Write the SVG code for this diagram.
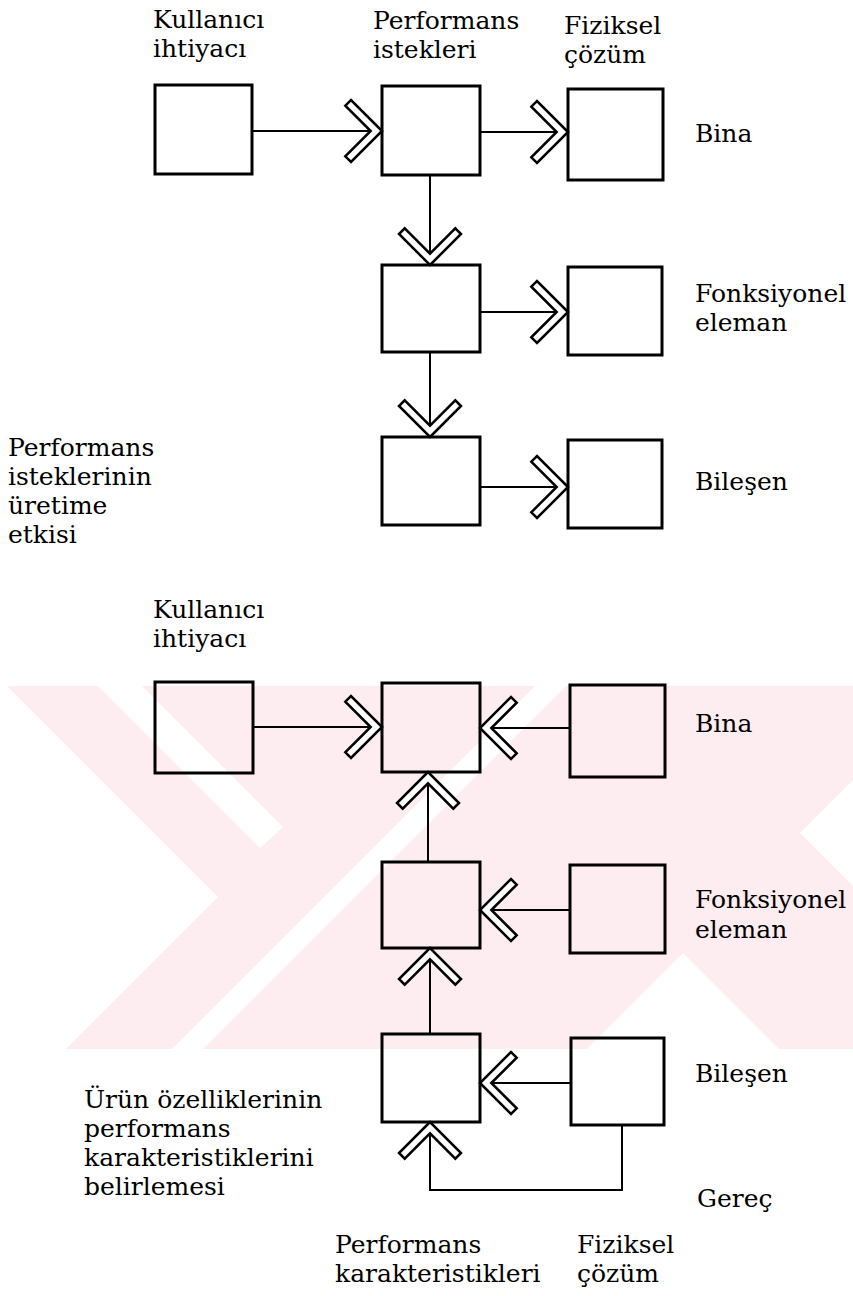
<svg xmlns="http://www.w3.org/2000/svg" xmlns:xlink="http://www.w3.org/1999/xlink" width="853" height="1296" viewBox="0 0 853 1296">
<style>
.box{fill:none;stroke:#000;stroke-width:3}
.ln{fill:none;stroke:#000;stroke-width:2}
.lbl{font-family:'DejaVu Serif','Liberation Serif',serif;font-size:25px;fill:#000}
.wm{fill:#fdedf0}
.wc{fill:#fff}
</style>
<defs>
<polygon id="chev" points="0,0 -31,-31 -36.7,-25.3 -11.3,0 -36.7,25.3 -31,31" fill="#fff" stroke="#000" stroke-width="2.5" stroke-linejoin="miter"/>
</defs>
<rect width="853" height="1296" fill="#fff"/>
<g id="watermark">
<rect class="wm" x="0" y="686" width="853" height="363"/>
<polygon class="wc" points="0,686 7,686 218,897 66,1049 0,1049"/>
<polygon class="wc" points="98,686 142,686 283,827 260,848"/>
<polygon class="wc" points="172,1049 203,1049 566,686 535,686"/>
<polygon class="wc" points="853,780 800,833 853,886"/>
<polygon class="wc" points="683,953 587,1049 779,1049"/>
</g>
<g id="connectors">
<line class="ln" x1="252" y1="131" x2="382" y2="131"/>
<use xlink:href="#chev" transform="translate(382,131)"/>
<line class="ln" x1="480" y1="132" x2="568" y2="132"/>
<use xlink:href="#chev" transform="translate(568,132)"/>
<line class="ln" x1="430" y1="175" x2="430" y2="265"/>
<use xlink:href="#chev" transform="translate(430,265) rotate(90)"/>
<line class="ln" x1="480" y1="312" x2="568" y2="312"/>
<use xlink:href="#chev" transform="translate(568,312)"/>
<line class="ln" x1="430" y1="352" x2="430" y2="437"/>
<use xlink:href="#chev" transform="translate(430,437) rotate(90)"/>
<line class="ln" x1="480" y1="487" x2="568" y2="487"/>
<use xlink:href="#chev" transform="translate(568,487)"/>

<line class="ln" x1="253" y1="727" x2="382" y2="727"/>
<use xlink:href="#chev" transform="translate(382,727)"/>
<line class="ln" x1="570" y1="728" x2="480" y2="728"/>
<use xlink:href="#chev" transform="translate(480,728) rotate(180)"/>
<line class="ln" x1="428" y1="862" x2="428" y2="772"/>
<use xlink:href="#chev" transform="translate(428,772) rotate(-90)"/>
<line class="ln" x1="570" y1="910" x2="480" y2="910"/>
<use xlink:href="#chev" transform="translate(480,910) rotate(180)"/>
<line class="ln" x1="430" y1="1034" x2="430" y2="948"/>
<use xlink:href="#chev" transform="translate(430,948) rotate(-90)"/>
<line class="ln" x1="571" y1="1083" x2="480" y2="1083"/>
<use xlink:href="#chev" transform="translate(480,1083) rotate(180)"/>
<polyline class="ln" points="622,1125 622,1190 430,1190 430,1122"/>
<use xlink:href="#chev" transform="translate(430,1122) rotate(-90)"/>
</g>
<g id="nA"><rect class="box" x="155" y="85" width="97" height="89"/></g>
<g id="nB"><rect class="box" x="382" y="86" width="98" height="89"/></g>
<g id="nC"><rect class="box" x="568" y="89" width="95" height="91"/></g>
<g id="nD"><rect class="box" x="382" y="265" width="98" height="87"/></g>
<g id="nE"><rect class="box" x="382" y="437" width="98" height="88"/></g>
<g id="nF"><rect class="box" x="568" y="267" width="94" height="88"/></g>
<g id="nG"><rect class="box" x="568" y="440" width="94" height="88"/></g>
<g id="nH"><rect class="box" x="155" y="682" width="98" height="91"/></g>
<g id="nI"><rect class="box" x="382" y="683" width="98" height="89"/></g>
<g id="nJ"><rect class="box" x="570" y="685" width="95" height="92"/></g>
<g id="nK"><rect class="box" x="382" y="862" width="98" height="86"/></g>
<g id="nL"><rect class="box" x="570" y="865" width="95" height="88"/></g>
<g id="nM"><rect class="box" x="382" y="1034" width="98" height="88"/></g>
<g id="nN"><rect class="box" x="571" y="1038" width="93" height="87"/></g>
<g id="labels">
<text class="lbl" x="153" y="28">Kullanıcı</text>
<text class="lbl" x="153" y="57">ihtiyacı</text>
<text class="lbl" x="373" y="29">Performans</text>
<text class="lbl" x="373" y="58">istekleri</text>
<text class="lbl" x="564" y="34">Fiziksel</text>
<text class="lbl" x="564" y="63">çözüm</text>
<text class="lbl" x="695" y="142">Bina</text>
<text class="lbl" x="695" y="302">Fonksiyonel</text>
<text class="lbl" x="695" y="331">eleman</text>
<text class="lbl" x="695" y="490">Bileşen</text>
<text class="lbl" x="8" y="456">Performans</text>
<text class="lbl" x="8" y="485">isteklerinin</text>
<text class="lbl" x="8" y="514">üretime</text>
<text class="lbl" x="8" y="543">etkisi</text>
<text class="lbl" x="153" y="618">Kullanıcı</text>
<text class="lbl" x="153" y="647">ihtiyacı</text>
<text class="lbl" x="695" y="732">Bina</text>
<text class="lbl" x="695" y="908">Fonksiyonel</text>
<text class="lbl" x="695" y="938">eleman</text>
<text class="lbl" x="695" y="1082">Bileşen</text>
<text class="lbl" x="84" y="1108">Ürün özelliklerinin</text>
<text class="lbl" x="84" y="1137">performans</text>
<text class="lbl" x="84" y="1166">karakteristiklerini</text>
<text class="lbl" x="84" y="1195">belirlemesi</text>
<text class="lbl" x="697" y="1207">Gereç</text>
<text class="lbl" x="335" y="1253">Performans</text>
<text class="lbl" x="335" y="1282">karakteristikleri</text>
<text class="lbl" x="577" y="1253">Fiziksel</text>
<text class="lbl" x="577" y="1282">çözüm</text>
</g>
</svg>
